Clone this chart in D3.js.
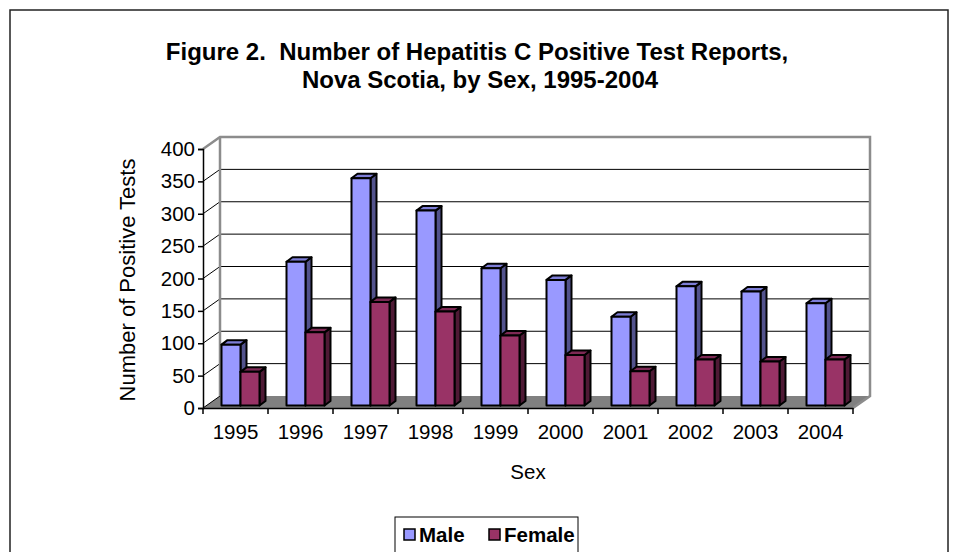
<!DOCTYPE html>
<html>
<head>
<meta charset="utf-8">
<script src="https://cdn.jsdelivr.net/npm/d3@7"></script>
<style>
  body { margin: 0; background: #fff; }
  text { font-family: Arial, "Liberation Sans", sans-serif; }
</style>
</head>
<body>
<script>
// chart data
const years = ["1995", "1996", "1997", "1998", "1999", "2000", "2001", "2002", "2003", "2004"];
const male = [94, 222, 351, 301, 212, 194, 137, 184, 176, 158];
const female = [52, 113, 160, 145, 108, 78, 53, 71, 68, 71];
const yTicks = [0, 50, 100, 150, 200, 250, 300, 350, 400];
const seriesNames = ["Male", "Female"];

const width = 958, height = 552;
const font = "Arial, 'Liberation Sans', sans-serif";

const svg = d3.select("body").append("svg")
    .attr("width", width)
    .attr("height", height);

// outer frame
svg.append("rect")
    .attr("x", 10).attr("y", 10)
    .attr("width", 938).attr("height", 600)
    .attr("fill", "none")
    .attr("stroke", "#222")
    .attr("stroke-width", 1.5);

// title
svg.append("text")
    .attr("x", 477).attr("y", 60)
    .attr("text-anchor", "middle")
    .attr("font-size", 24).attr("font-weight", "bold")
    .text("Figure 2.\u00a0 Number of Hepatitis C Positive Test Reports,");
svg.append("text")
    .attr("x", 480).attr("y", 88)
    .attr("text-anchor", "middle")
    .attr("font-size", 24).attr("font-weight", "bold")
    .text("Nova Scotia, by Sex, 1995-2004");

// scales
const x = d3.scaleBand().domain(years).range([203, 853]);
const y = d3.scaleLinear().domain([0, 400]).range([408, 149]);

// 3d offsets: wall depth, bar plane, bar depth
const depth = { dx: 17, dy: -12 };
const plane = { dx: 5, dy: -2.5 };
const barDepth = { dx: 6, dy: -4.5 };

const x0 = x.range()[0], x1 = x.range()[1];

// floor
svg.append("polygon")
    .attr("points", [[x0, y(0)], [x1, y(0)], [x1 + depth.dx, y(0) + depth.dy], [x0 + depth.dx, y(0) + depth.dy]].join(" "))
    .attr("fill", "#808080");

// gridlines: back wall + left wall diagonals
const grid = svg.append("g");
yTicks.forEach(v => {
    if (v > 0 && v < 400) {
        grid.append("line")
            .attr("x1", x0 + depth.dx).attr("x2", x1 + depth.dx)
            .attr("y1", y(v) + depth.dy).attr("y2", y(v) + depth.dy)
            .attr("stroke", "#000").attr("stroke-width", 1);
    }
    if (v < 400) {
        grid.append("line")
            .attr("x1", x0).attr("x2", x0 + depth.dx)
            .attr("y1", y(v)).attr("y2", y(v) + depth.dy)
            .attr("stroke", "#000").attr("stroke-width", 1);
    }
});

// wall edges (grey)
svg.append("polyline")
    .attr("points", [[x0, y(400)], [x0 + depth.dx, y(400) + depth.dy], [x1 + depth.dx, y(400) + depth.dy], [x1 + depth.dx, y(0) + depth.dy], [x1, y(0)]].join(" "))
    .attr("fill", "none").attr("stroke", "#8c8c8c").attr("stroke-width", 2.5);
svg.append("line")
    .attr("x1", x0 + depth.dx).attr("x2", x0 + depth.dx)
    .attr("y1", y(400) + depth.dy).attr("y2", y(0) + depth.dy)
    .attr("stroke", "#8c8c8c").attr("stroke-width", 2.5);

// y axis
const yAxis = svg.append("g")
    .attr("transform", `translate(${x0},0)`)
    .call(d3.axisLeft(y).tickValues(yTicks).tickSize(5).tickPadding(3));
yAxis.select(".domain").attr("stroke", "#000").attr("stroke-width", 1.5);
yAxis.selectAll(".tick line").attr("stroke", "#000").attr("stroke-width", 1.5);
yAxis.selectAll(".tick text").attr("font-size", 20.5).attr("fill", "#000")
    .attr("font-family", font);

// x axis
const xAxis = svg.append("g")
    .attr("transform", `translate(0,${y(0)})`)
    .call(d3.axisBottom(x).tickSize(0).tickPadding(16));
xAxis.select(".domain").attr("stroke", "#000").attr("stroke-width", 1.5);
xAxis.selectAll(".tick text").attr("font-size", 20.5).attr("fill", "#000")
    .attr("font-family", font);
// category boundary ticks
const bounds = years.map(d => x(d)).concat([x1]);
xAxis.selectAll(".bound").data(bounds).enter().append("line")
    .attr("x1", d => d).attr("x2", d => d)
    .attr("y1", 0).attr("y2", 6)
    .attr("stroke", "#000").attr("stroke-width", 1.5);

// axis titles
svg.append("text")
    .attr("transform", `translate(135,280) rotate(-90)`)
    .attr("text-anchor", "middle")
    .attr("font-size", 22)
    .text("Number of Positive Tests");
svg.append("text")
    .attr("x", 528).attr("y", 479)
    .attr("text-anchor", "middle")
    .attr("font-size", 20.5)
    .text("Sex");

// bars
const colors = {
    Male: { front: "#9999ff", side: "#52528c", top: "#7d7dd6" },
    Female: { front: "#993366", side: "#4f1a35", top: "#7d2954" }
};
const barW = 19;
const bars = svg.append("g");

years.forEach((yr, i) => {
    const cx = x(yr) + x.bandwidth() / 2 + plane.dx;
    [["Male", male[i]], ["Female", female[i]]].forEach(([name, v], j) => {
        const bx = cx - barW + j * barW;
        const top = y(v) + plane.dy;
        const base = y(0) + plane.dy;
        const c = colors[name];
        const g = bars.append("g")
            .attr("stroke", "#000").attr("stroke-width", 2)
            .attr("stroke-linejoin", "round");
        // side face
        g.append("polygon")
            .attr("points", [[bx + barW, base], [bx + barW + barDepth.dx, base + barDepth.dy],
                [bx + barW + barDepth.dx, top + barDepth.dy], [bx + barW, top]].join(" "))
            .attr("fill", c.side);
        // top face
        g.append("polygon")
            .attr("points", [[bx, top], [bx + barW, top], [bx + barW + barDepth.dx, top + barDepth.dy],
                [bx + barDepth.dx, top + barDepth.dy]].join(" "))
            .attr("fill", c.top);
        // front face
        g.append("rect")
            .attr("x", bx).attr("y", top)
            .attr("width", barW).attr("height", base - top)
            .attr("fill", c.front);
    });
});

// legend
const legend = svg.append("g");
legend.append("rect")
    .attr("x", 395).attr("y", 517)
    .attr("width", 183).attr("height", 50)
    .attr("fill", "#fff").attr("stroke", "#000").attr("stroke-width", 1);
const legendX = [404, 489];
seriesNames.forEach((name, i) => {
    legend.append("rect")
        .attr("x", legendX[i]).attr("y", 529)
        .attr("width", 11).attr("height", 11)
        .attr("fill", colors[name].front)
        .attr("stroke", "#000").attr("stroke-width", 1.5);
    legend.append("text")
        .attr("x", legendX[i] + 15).attr("y", 542)
        .attr("font-size", 20.5).attr("font-weight", "bold")
        .text(name);
});
</script>
</body>
</html>
